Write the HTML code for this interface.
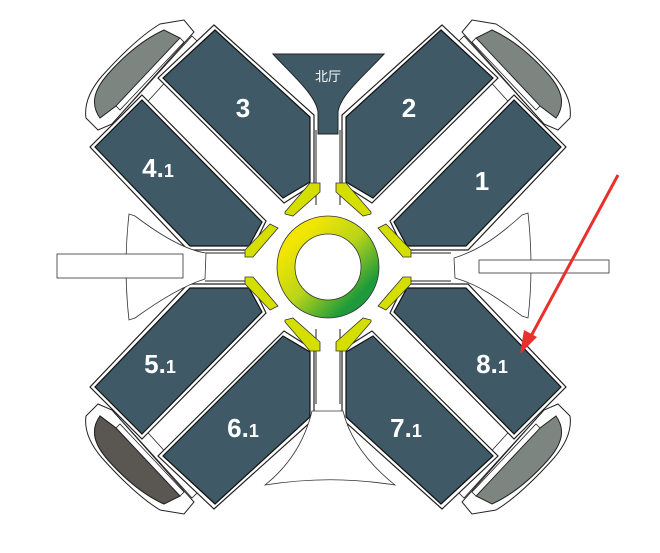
<!DOCTYPE html>
<html><head><meta charset="utf-8"><style>
html,body{margin:0;padding:0;background:#fff;}
svg{display:block;}
text{font-family:"Liberation Sans","Noto Sans CJK SC",sans-serif;font-weight:bold;fill:#fff;}
</style></head><body>
<svg width="660" height="553" viewBox="0 0 660 553" xmlns="http://www.w3.org/2000/svg">
<defs>
<linearGradient id="rg" x1="0" y1="0" x2="1" y2="1">
<stop offset="0.15" stop-color="#f2e600"/><stop offset="0.5" stop-color="#b8d41a"/><stop offset="0.85" stop-color="#1e9a3a"/>
</linearGradient>
<g id="q">
  <!-- outer white cap -->
  <path d="M98,130 L86,118 C84,104 90,90 102,76 C120,56 140,36 160,24 L184,20 L194,32 L112,124 Z" fill="#fff" stroke="#222" stroke-width="1"/>
  <!-- gray band -->
  <path d="M100,118 C90,104 94,90 108,74 C124,56 142,40 164,30 L180,38 L116,106 Z" fill="#7d8580" stroke="#222" stroke-width="1"/>
  <path d="M116,106 L180,38 L184,42 L120,110 Z" fill="#fff" stroke="#222" stroke-width="0.8"/>
  <path d="M112,124 L192,36 L200,44 L120,132 Z" fill="#fff" stroke="#222" stroke-width="0.8"/>
  <!-- hall 3 -->
  <path d="M214,25 L314,115 L314,184 L284,203 L158,78 Z" fill="#fff" stroke="#222" stroke-width="1.2"/>
  <path d="M215,30 L310,117 L310,182 L283,198 L163,78 Z" fill="#3f5a66" stroke="#111" stroke-width="1.2"/>
  <!-- hall 4.1 -->
  <path d="M142,95 L266,221 L252,250 L188,250 L90,147 Z" fill="#fff" stroke="#222" stroke-width="1.2"/>
  <path d="M142,100 L262,222 L249,246 L190,246 L95,147 Z" fill="#3f5a66" stroke="#111" stroke-width="1.2"/>
  <!-- corridor lines -->
  <path d="M316,130 L316,205 M205,253 L245,253" stroke="#222" stroke-width="1" fill="none"/>
  <!-- yellow pads -->
  <path d="M285,212 L310,183 L320,183 L320,192 L293,216 L285,214 Z" fill="#d4df00" stroke="#333" stroke-width="0.8"/>
  <path d="M245,250 L270,224 L278,228 L253,257 L245,257 Z" fill="#d4df00" stroke="#333" stroke-width="0.8"/>
</g>
</defs>
<use href="#q"/>
<use href="#q" transform="translate(656,0) scale(-1,1)"/>
<use href="#q" transform="translate(0,534) scale(1,-1)"/>
<use href="#q" transform="translate(656,534) scale(-1,-1)"/>
<!-- darker bottom-left gray -->
<path d="M100,416 C90,430 94,444 108,460 C124,478 142,494 164,504 L180,496 L116,428 Z" fill="#5a5652" stroke="#222" stroke-width="1"/>
<!-- north hall -->
<path d="M273,54 L384,54 C365,75 340,95 338,112 L338,134 L318,134 L318,112 C316,95 292,75 273,54 Z" fill="#3f5a66" stroke="#222" stroke-width="1"/>
<text x="328" y="81" font-size="13" text-anchor="middle" style="font-weight:normal">北厅</text>
<!-- south entrance -->
<path d="M312,411 L343,411 C350,440 370,465 395,485 C350,478 310,478 265,485 C290,465 305,440 312,411 Z" fill="#fff" stroke="#333" stroke-width="0.8"/>
<!-- west entrance -->
<path d="M129,214 C125,250 125,285 129,320 L135,318 C160,300 185,285 205,279 L206,253 C185,250 160,235 135,216 Z" fill="#fff" stroke="#333" stroke-width="0.8"/>
<rect x="57" y="254" width="126" height="24" fill="#fff" stroke="#333" stroke-width="0.8"/>
<!-- east entrance -->
<path d="M528,213 C532,250 532,285 528,318 L522,316 C500,300 480,285 455,278 L454,258 C480,250 500,235 522,215 Z" fill="#fff" stroke="#333" stroke-width="0.8"/>
<rect x="479" y="260" width="130" height="13" fill="#fff" stroke="#333" stroke-width="0.8"/>
<!-- ring -->
<circle cx="328" cy="267" r="42" fill="none" stroke="url(#rg)" stroke-width="18"/>
<circle cx="328" cy="267" r="51" fill="none" stroke="#333" stroke-width="0.8"/>
<circle cx="328" cy="267" r="33" fill="#fff" stroke="#333" stroke-width="0.8"/>
<!-- labels -->
<g font-size="26" text-anchor="middle">
<text x="243" y="117">3</text>
<text x="409" y="117">2</text>
<text x="482" y="190">1</text>
<text x="158" y="177">4.<tspan font-size="18">1</tspan></text>
<text x="160" y="373">5.<tspan font-size="18">1</tspan></text>
<text x="243" y="437">6.<tspan font-size="18">1</tspan></text>
<text x="406" y="437">7.<tspan font-size="18">1</tspan></text>
<text x="492" y="373">8.<tspan font-size="18">1</tspan></text>
</g>
<!-- red arrow -->
<path d="M618,175 L530,338" stroke="#e8302c" stroke-width="3" fill="none"/>
<path d="M520,354 L524,330 L537,337 Z" fill="#e8302c"/>
</svg>
</body></html>
